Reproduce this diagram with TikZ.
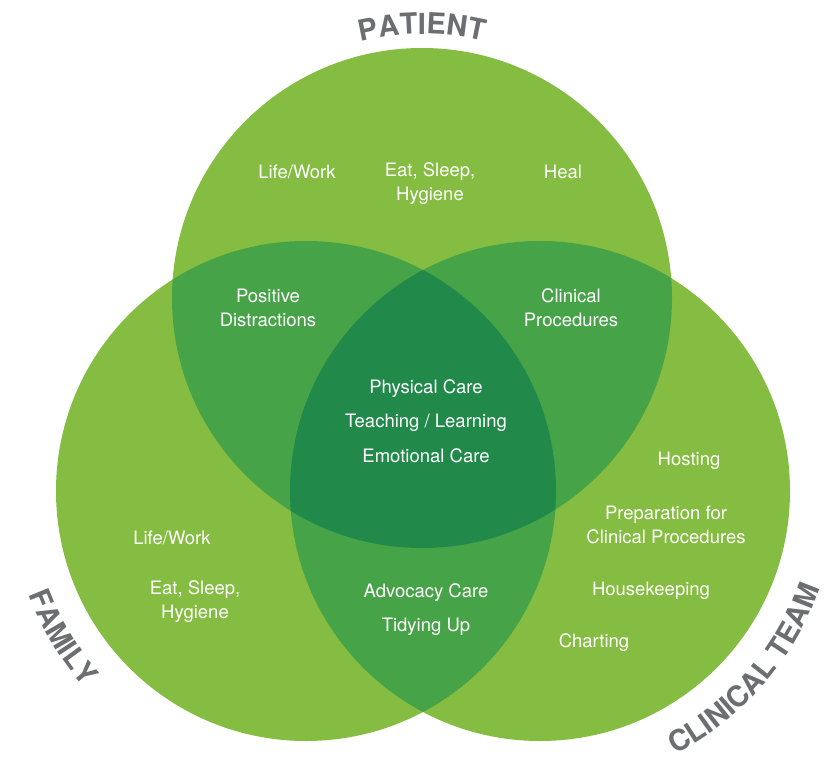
\documentclass[tikz,border=0pt]{standalone}
\usepackage{fontspec}
\setmainfont{TeX Gyre Heros}
\usetikzlibrary{decorations.text}
\definecolor{gLight}{HTML}{84BD41}
\definecolor{gMid}{HTML}{47A348}
\definecolor{gDark}{HTML}{218A4A}
\definecolor{labgray}{HTML}{6D6E71}
\newcommand\labfont{\bfseries\fontsize{29}{29}\selectfont}
\begin{document}
\begin{tikzpicture}[x=1pt,y=1pt,
  txt/.style={text=white, font=\fontsize{18.5}{24}\selectfont, align=center, inner sep=0pt},
  lab/.style={decorate, decoration={text along path, text align=center, text color=labgray}}]
\useasboundingbox (0,0) rectangle (825,-757);
\coordinate (cT) at (422,-298);
\coordinate (cL) at (306,-491);
\coordinate (cR) at (540,-491);
% circles
\fill[gLight] (cT) circle[radius=250];
\fill[gLight] (cL) circle[radius=250];
\fill[gLight] (cR) circle[radius=250];
\begin{scope}
  \clip (cT) circle[radius=250];
  \fill[gMid] (cL) circle[radius=250];
  \fill[gMid] (cR) circle[radius=250];
\end{scope}
\begin{scope}
  \clip (cL) circle[radius=250];
  \fill[gMid] (cR) circle[radius=250];
\end{scope}
\begin{scope}
  \clip (cT) circle[radius=250];
  \clip (cL) circle[radius=250];
  \fill[gDark] (cR) circle[radius=250];
\end{scope}
% curved labels
\path[lab, decoration={text={|\labfont|PATIENT}}]
  ([shift={(125:264)}]cT) arc[start angle=125, end angle=55, radius=264];
\path[lab, decoration={text={|\labfont|FAMILY}}]
  ([shift={(185:296)}]cL) arc[start angle=185, end angle=237, radius=296];
\path[lab, decoration={text={|\labfont|CLINICAL TEAM}}]
  ([shift={(-85:296)}]cR) arc[start angle=-85, end angle=3, radius=296];
% texts
\node[txt] (pLife) at (297,-172) {Life/Work};
\node[txt] (pEat) at (430,-184) {Eat, Sleep,\\Hygiene};
\node[txt] (pHeal) at (563,-172) {Heal};
\node[txt] (pf) at (268,-308) {Positive\\Distractions};
\node[txt] (pc) at (571,-308) {Clinical\\Procedures};
\node[txt] (c1) at (426,-389) {Physical Care};
\node[txt] (c2) at (426,-423) {Teaching / Learning};
\node[txt] (c3) at (426,-456) {Emotional Care};
\node[txt] (t1) at (689,-461) {Hosting};
\node[txt] (t2) at (666,-525) {Preparation for\\Clinical Procedures};
\node[txt] (t3) at (651,-591) {Housekeeping};
\node[txt] (t4) at (594,-643) {Charting};
\node[txt] (fLife) at (172,-538) {Life/Work};
\node[txt] (fEat) at (195,-602) {Eat, Sleep,\\Hygiene};
\node[txt] (fc1) at (426,-593) {Advocacy Care};
\node[txt] (fc2) at (426,-627) {Tidying Up};
\end{tikzpicture}
\end{document}
